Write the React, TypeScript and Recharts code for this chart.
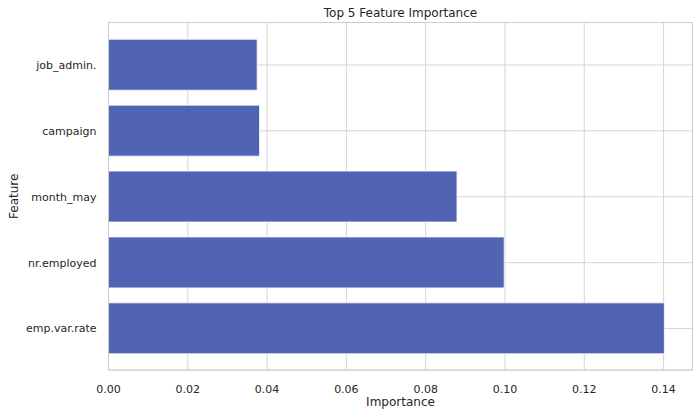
import React from 'react';
import { BarChart, Bar, XAxis, YAxis, CartesianGrid } from 'recharts';

const features = ['job_admin.', 'campaign', 'month_may', 'nr.employed', 'emp.var.rate'];
const importance = [0.0375, 0.0381, 0.0879, 0.0998, 0.1402];
const xTicks = [0, 0.02, 0.04, 0.06, 0.08, 0.1, 0.12, 0.14];

const data = features.map((f, i) => ({ feature: f, importance: importance[i] }));

const FONT = '"DejaVu Sans", sans-serif';
const TEXT = '#262626';

export default function App() {
  return (
    <div style={{ position: 'fixed', left: 0, top: 0, width: 700, height: 417, background: '#fff', fontFamily: FONT }}>
      <div style={{ position: 'absolute', left: 108, width: 585, top: 5, textAlign: 'center', fontSize: 12, color: TEXT, lineHeight: '16px' }}>
        Top 5 Feature Importance
      </div>
      <BarChart
        width={700}
        height={417}
        data={data}
        layout="vertical"
        margin={{ top: 22.5, right: 7.5, bottom: 17, left: 8.5 }}
        barCategoryGap="11%"
      >
        <CartesianGrid stroke="#d5d5d5" strokeWidth={1} horizontal vertical />
        <XAxis
          type="number"
          dataKey="importance"
          domain={[0, 0.1473]}
          ticks={xTicks}
          allowDataOverflow
          tickFormatter={(v: number) => v.toFixed(2)}
          tickLine={false}
          axisLine={{ stroke: '#cccccc' }}
          tick={{ fill: TEXT, fontSize: 11, fontFamily: FONT }}
          tickMargin={9}
          height={30}
          label={{ value: 'Importance', position: 'bottom', offset: 0, fill: TEXT, fontSize: 12, fontFamily: FONT, dy: -3 }}
        />
        <YAxis
          type="category"
          dataKey="feature"
          width={100}
          padding={{ top: 9.5, bottom: 8.5 }}
          tickLine={false}
          axisLine={{ stroke: '#cccccc' }}
          tick={{ fill: TEXT, fontSize: 11, fontFamily: FONT }}
          tickMargin={6}
          label={{ value: 'Feature', angle: -90, position: 'insideLeft', offset: 0, textAnchor: 'middle', fill: TEXT, fontSize: 12, fontFamily: FONT, dx: 5 }}
        />
        <Bar dataKey="importance" fill="#5164b3" stroke="#ffffff" strokeWidth={0.8} isAnimationActive={false} />
      </BarChart>
      <div style={{ position: 'absolute', left: 692, top: 22.5, width: 1, height: 347.5, background: '#cccccc' }} />
      <div style={{ position: 'absolute', left: 108.5, top: 22, width: 584, height: 1, background: '#cccccc' }} />
    </div>
  );
}
